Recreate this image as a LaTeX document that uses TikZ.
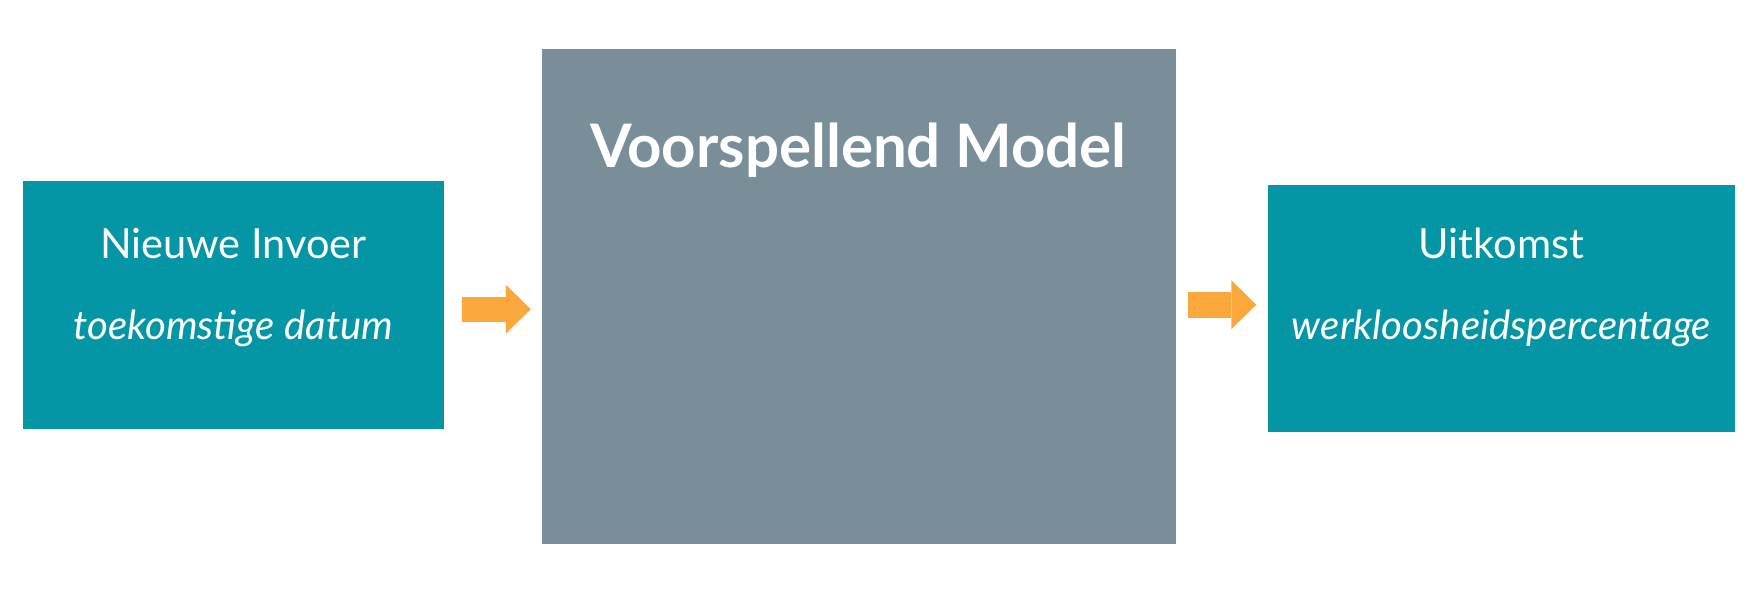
\documentclass[tikz,border=0pt]{standalone}
\usepackage{fontspec}
\setmainfont{Lato}
\usepackage{tikz}
\usetikzlibrary{arrows.meta,positioning}
\definecolor{teal}{RGB}{4,150,165}
\definecolor{slate}{RGB}{122,142,153}
\definecolor{oranje}{RGB}{250,168,60}
\tikzset{
  blok/.style ={fill=teal, inner sep=0pt, minimum width=#1},
  model/.style={fill=slate, inner sep=0pt, minimum width=634pt, minimum height=495pt},
  kop/.style  ={text=white, anchor=base, font=\fontsize{41.5}{50}\selectfont},
  sub/.style  ={text=white, anchor=base, font=\fontsize{40.2}{48}\selectfont\itshape},
  titel/.style={text=white, anchor=base, font=\fontsize{60}{72}\selectfont\bfseries},
  flow/.style ={draw=oranje, line width=25.5pt, -{Triangle[length=25pt,width=49pt,line width=0pt]}}
}
\begin{document}
\begin{tikzpicture}[x=1pt,y=-1pt]
\useasboundingbox[fill=white] (0,0) rectangle (1757,592);
\node[blok=421pt, minimum height=247.5pt] (in) at (233.5,304.75) {};
\node[model] (pm) at (858.5,296.5) {};
\node[blok=467pt, minimum height=247pt] (uit) at (1501.5,308.5) {};
\node[kop] (inkop) at ([yshift=46pt]in.center) {Nieuwe Invoer};
\node[sub] (insub) at ([yshift=-34.25pt]in.center) {toekomstige datum};
\node[titel] (pmkop) at ([yshift=-119pt]pm.north) {Voorspellend Model};
\node[kop] (uitkop) at ([yshift=50pt]uit.center) {Uitkomst};
\node[sub] (uitsub) at ([yshift=-30.5pt]uit.center) {werkloosheidspercentage};
\draw[flow, shorten <=18pt, shorten >=10.5pt] ([yshift=-4.5pt]in.east) -- ([yshift=-4.5pt]in.east -| pm.west);
\draw[flow, shorten <=12.5pt, shorten >=11.5pt] ([yshift=3.75pt]uit.west -| pm.east) -- ([yshift=3.75pt]uit.west);
\end{tikzpicture}
\end{document}
